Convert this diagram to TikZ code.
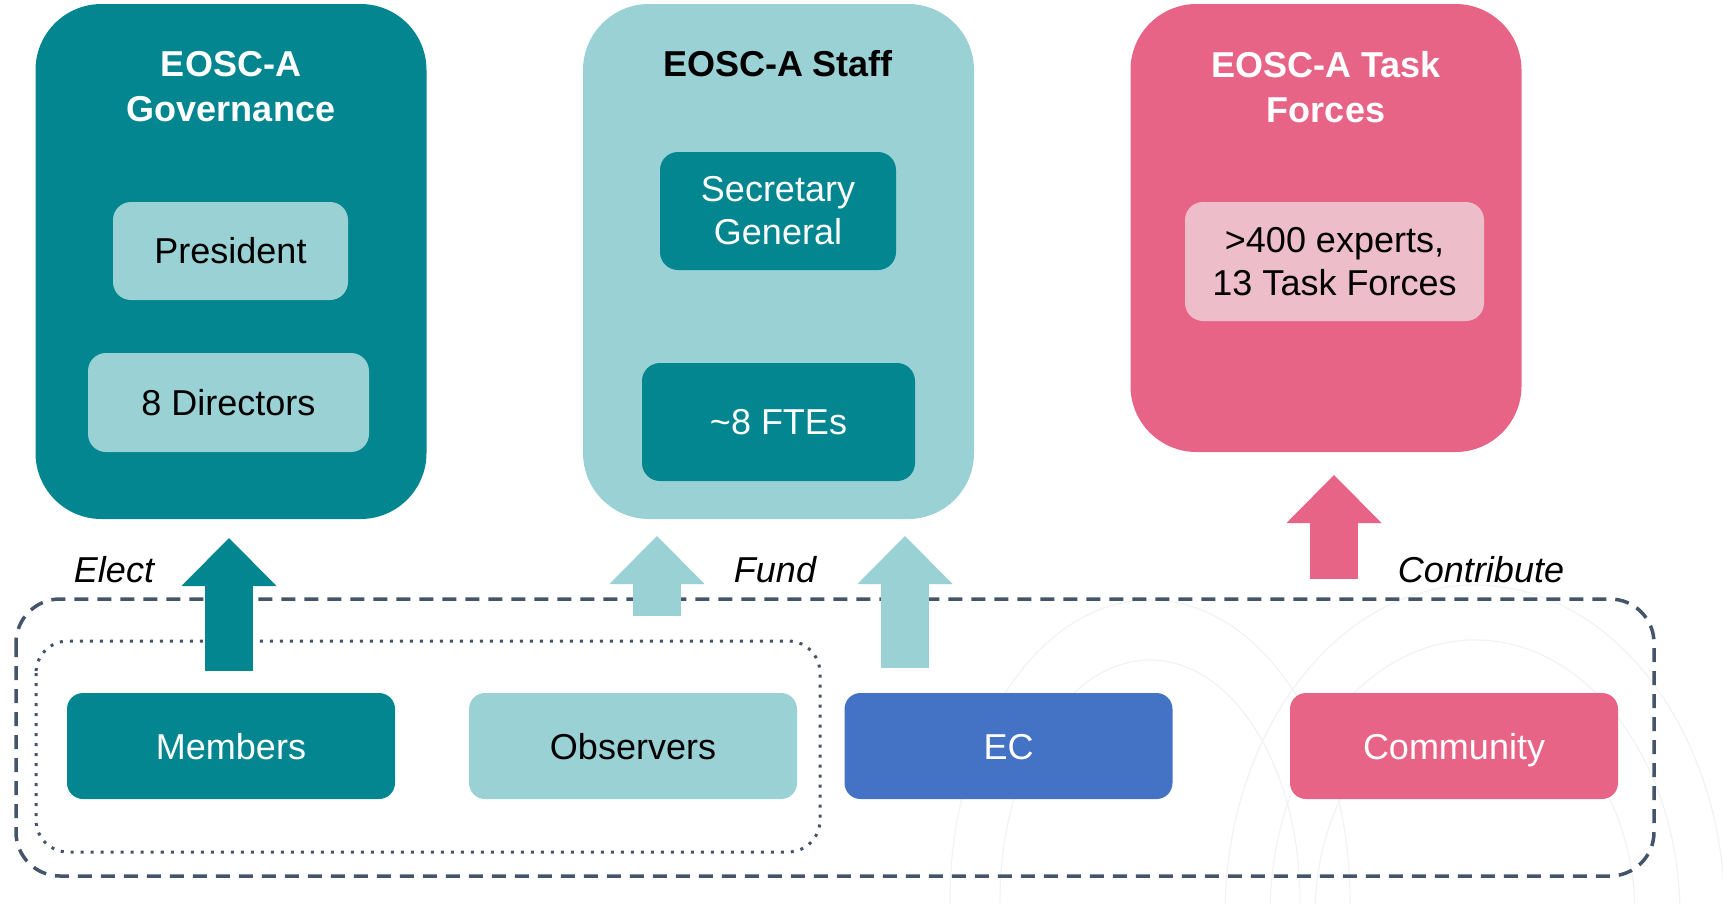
\documentclass[tikz,border=0pt]{standalone}
\usepackage{fontspec}
\setmainfont{Liberation Sans}
\usetikzlibrary{arrows.meta}

\definecolor{eoscteal}{HTML}{03868F}
\definecolor{eosclight}{HTML}{99D1D5}
\definecolor{eoscpink}{HTML}{E86487}
\definecolor{eoscblush}{HTML}{EDBDC9}
\definecolor{eoscblue}{HTML}{4472C4}
\definecolor{eoscslate}{HTML}{44546A}

\tikzstyle{panel}=[rectangle,
    rounded corners=66pt,
    minimum width=391pt]
\tikzstyle{title}=[align=center,
    font=\bfseries\fontsize{36}{45}\selectfont]
\tikzstyle{inner}=[rectangle,
    rounded corners=18pt,
    align=center,
    font=\fontsize{36}{43}\selectfont]
\tikzstyle{party}=[rectangle,
    rounded corners=16pt,
    minimum width=328pt,
    minimum height=106pt,
    text height=27pt,
    text depth=0pt,
    font=\fontsize{36}{43}\selectfont]
\tikzstyle{verb}=[font=\itshape\fontsize{36}{44}\selectfont]
\tikzstyle{fat}=[line width=48pt,
    -{Triangle[width=95pt,length=48pt,line width=0pt]}]

\begin{document}
\begin{tikzpicture}[x=1pt,y=-1pt]
    \useasboundingbox (0,0) rectangle (1723,903);
    \begin{scope}
        \clip (0,0) rectangle (1723,903);
        \foreach \rx/\ry in {250/330,205/275,160/215}
            \draw[black!5, line width=1.2pt] (1475,915) ellipse ({\rx} and {\ry});
        \foreach \rx/\ry in {200/300,150/240}
            \draw[black!5, line width=1.2pt] (1150,900) ellipse ({\rx} and {\ry});
    \end{scope}

    \node (gov) [panel, fill=eoscteal, minimum height=515pt] at (231,261.5) {};
    \node (staff) [panel, fill=eosclight, minimum height=515pt] at (778.5,261.5) {};
    \node (tf) [panel, fill=eoscpink, minimum height=448pt] at (1326,228) {};

    \node (govtitle) [title, text=white] at (231,87) {EOSC-A\\Governance};
    \node (stafftitle) [title, text=black] at (778,64) {EOSC-A Staff};
    \node (tftitle) [title, text=white] at (1326,87) {EOSC-A Task\\Forces};

    \node (president) [inner, fill=eosclight, minimum width=235pt, minimum height=98pt] at (230.5,251) {President};
    \node (directors) [inner, fill=eosclight, minimum width=281pt, minimum height=99pt] at (228.5,402.5) {8 Directors};
    \node (secgen) [inner, fill=eoscteal, text=white, minimum width=236pt, minimum height=118pt] at (778,211) {Secretary\\General};
    \node (ftes) [inner, fill=eoscteal, text=white, minimum width=273pt, minimum height=118pt] at (778.5,422) {\textasciitilde 8 FTEs};
    \node (experts) [inner, fill=eoscblush, minimum width=299pt, minimum height=119pt] at (1334.5,261.5) {\textgreater 400 experts,\\13 Task Forces};

    \draw[eoscslate, line width=3.5pt, dash pattern=on 14pt off 9pt, rounded corners=44pt] (16,599) rectangle (1654,876);
    \draw[eoscslate, line width=3pt, dash pattern=on 3pt off 7pt, rounded corners=32pt] (36,641) rectangle (820,852);

    \coordinate (elect-s) at (229,671);
    \coordinate (elect-t) at (229,538);
    \coordinate (fund1-s) at (657,616);
    \coordinate (fund1-t) at (657,536);
    \coordinate (fund2-s) at (905,668);
    \coordinate (fund2-t) at (905,536);
    \coordinate (contrib-s) at (1334,579);
    \coordinate (contrib-t) at (1334,475);
    \draw [fat, eoscteal] (elect-s) -- (elect-t);
    \draw [fat, eosclight] (fund1-s) -- (fund1-t);
    \draw [fat, eosclight] (fund2-s) -- (fund2-t);
    \draw [fat, eoscpink] (contrib-s) -- (contrib-t);

    \node (elect) [verb] at (114,570) {Elect};
    \node (fund) [verb] at (775,570) {Fund};
    \node (contribute) [verb] at (1481,570) {Contribute};

    \node (members) [party, fill=eoscteal, text=white] at (231,746) {Members};
    \node (observers) [party, fill=eosclight] at (633,746) {Observers};
    \node (ec) [party, fill=eoscblue, text=white] at (1008.5,746) {EC};
    \node (community) [party, fill=eoscpink, text=white] at (1454,746) {Community};
\end{tikzpicture}
\end{document}
